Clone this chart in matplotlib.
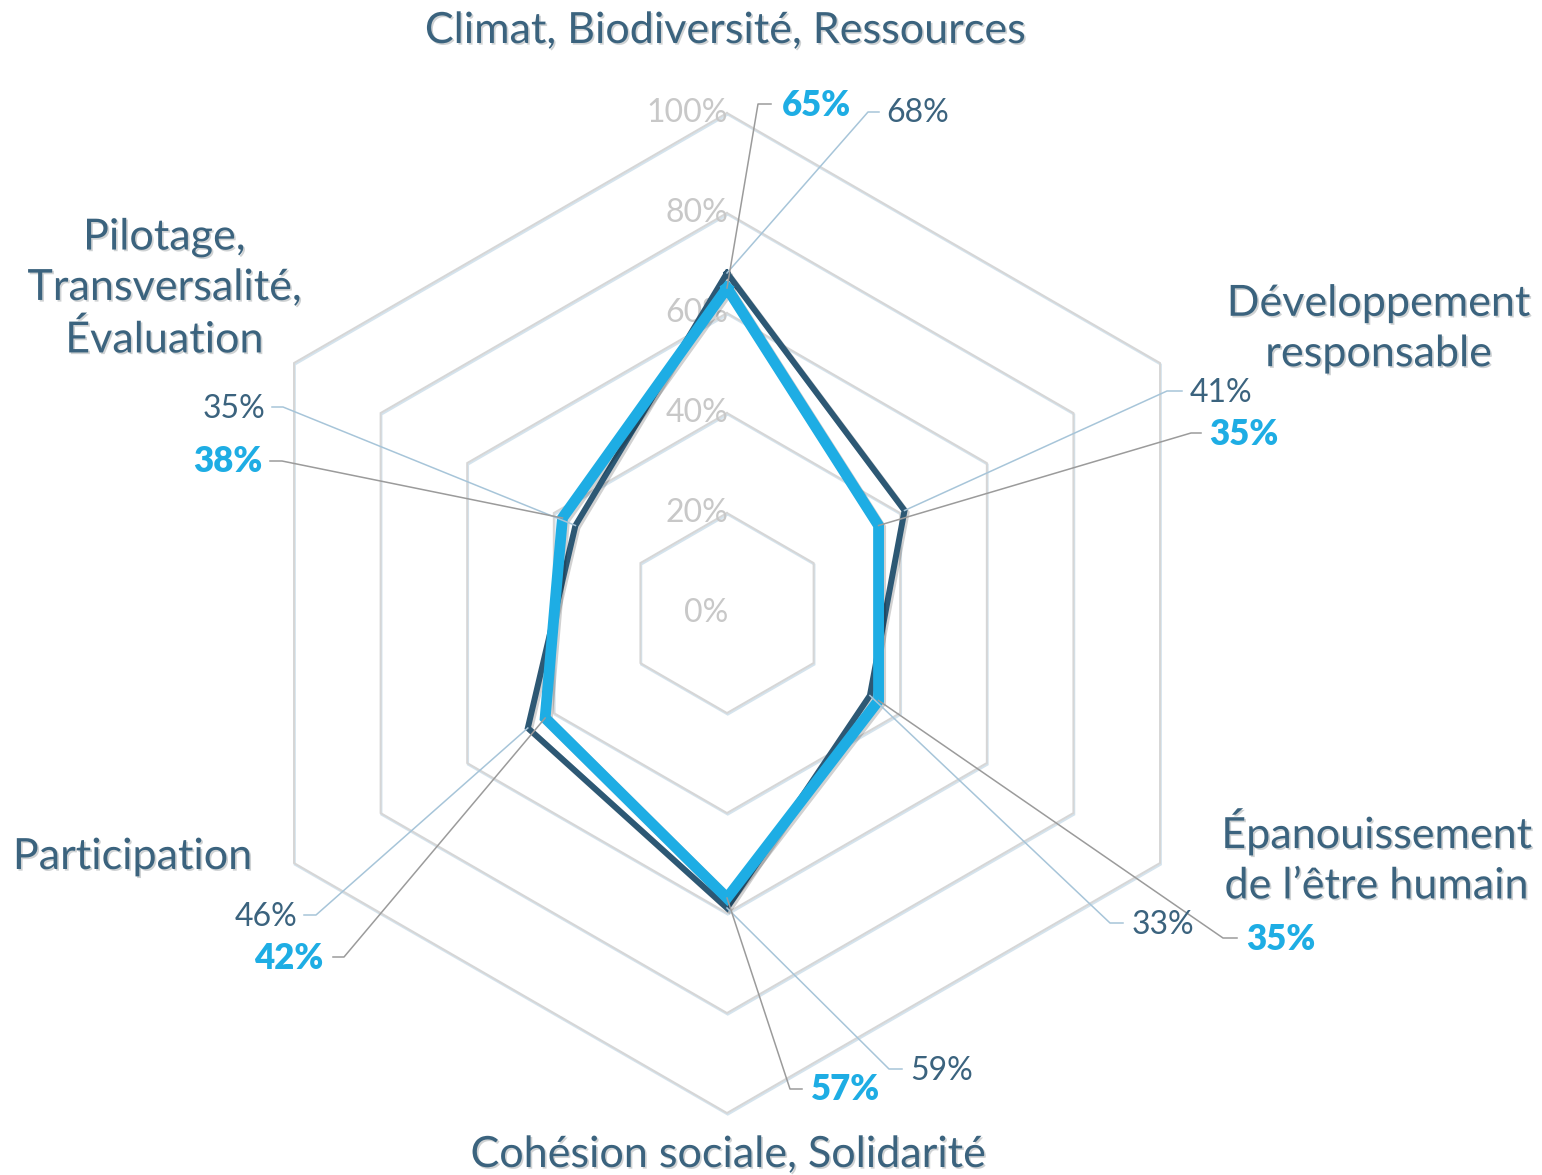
import numpy as np
import matplotlib.pyplot as plt
import matplotlib.patheffects as pe

# ---- data -------------------------------------------------------------
categories = [
    "Climat, Biodiversité, Ressources",
    "Développement\nresponsable",
    "Épanouissement\nde l’être humain",
    "Cohésion sociale, Solidarité",
    "Participation",
    "Pilotage,\nTransversalité,\nÉvaluation",
]
dark_values = [68, 41, 33, 59, 46, 35]
blue_values = [65, 35, 35, 57, 42, 38]
grid_levels = [20, 40, 60, 80, 100]
tick_levels = [0, 20, 40, 60, 80, 100]

# ---- style ------------------------------------------------------------
DARK = '#2d5874'
BLUE = '#1eade4'
TEXT = '#3b637e'
GRID = '#d6d6d6'
GRID2 = '#d4e3ed'
LEAD_DARK = '#a7c5d9'   # leader for the dark series labels
LEAD_BLUE = '#9b9b9b'   # leader for the blue series labels
FONT = 'Lato'

W, H = 1542, 1175
CX, CY, SCALE = 727, 613, 5.0   # centre in px, px per percent


def px(x, y):
    # pixel position -> data units
    return (x - CX) / SCALE, (CY - y) / SCALE


theta = np.arange(len(categories)) * 2 * np.pi / len(categories)


def to_xy(values):
    v = np.asarray(values, dtype=float)
    return v * np.sin(theta), v * np.cos(theta)


fig = plt.figure(figsize=(W / 100, H / 100), dpi=100)
ax = fig.add_axes([0, 0, 1, 1])
x0, y0 = px(0, H)
x1, y1 = px(W, 0)
ax.set_xlim(x0, x1)
ax.set_ylim(y0, y1)
ax.set_aspect('equal')
ax.axis('off')

# hexagonal grid (grey line with a pale blue twin just below it)
for lev in grid_levels:
    gx, gy = to_xy([lev] * len(categories))
    gx = np.append(gx, gx[0])
    gy = np.append(gy, gy[0])
    ax.plot(gx + 0.15, gy - 0.3, color=GRID2, lw=1.6, zorder=1,
            solid_joinstyle='miter')
    ax.plot(gx, gy, color=GRID, lw=1.4, zorder=1.1, solid_joinstyle='miter')

# tick labels along the top spoke
for lev in tick_levels:
    ax.text(px(728, 0)[0], lev, f"{lev}%", ha='right', va='center',
            fontsize=23, color='#c8c8c8', family=FONT, zorder=1.5)

# series
shadow = [pe.SimpleLineShadow(offset=(1.5, -1.5), alpha=0.18), pe.Normal()]
dx, dy = to_xy(dark_values)
bx, by = to_xy(blue_values)
ax.plot(np.append(dx, dx[0]), np.append(dy, dy[0]), color=DARK, lw=4.3,
        solid_joinstyle='miter', zorder=3, path_effects=shadow)
ax.plot(np.append(bx, bx[0]), np.append(by, by[0]), color=BLUE, lw=7.8,
        solid_joinstyle='miter', zorder=4, path_effects=shadow)

# category labels (pixel centres)
cat_pos = [(724, 31), (1378, 329), (1376, 857), (727, 1155), (132, 857),
           (164, 289)]
txt_shadow = [pe.SimplePatchShadow(offset=(1.2, -1.2), alpha=0.2),
              pe.Normal()]
for name, (cxp, cyp) in zip(categories, cat_pos):
    tx, ty = px(cxp, cyp)
    ax.text(tx, ty, name, ha='center', va='center', fontsize=31,
            color=TEXT, family=FONT, linespacing=1.4, zorder=5,
            path_effects=txt_shadow)

# value labels with elbow leaders: (elbow px, end px, text px, ha)
dark_lead = [
    ((868, 112), (879, 112), (886, 113), 'left'),
    ((1167, 391), (1182, 391), (1190, 393), 'left'),
    ((1110, 923), (1123, 923), (1132, 925), 'left'),
    ((889, 1069), (902, 1069), (910, 1071), 'left'),
    ((316, 915), (304, 915), (297, 917), 'right'),
    ((283, 407), (272, 407), (265, 409), 'right'),
]
blue_lead = [
    ((758, 104), (771, 104), (782, 105), 'left'),
    ((1191, 433), (1201, 433), (1209, 435), 'left'),
    ((1223, 938), (1237, 938), (1246, 940), 'left'),
    ((790, 1089), (802, 1089), (811, 1089), 'left'),
    ((344, 957), (333, 957), (323, 959), 'right'),
    ((282, 461), (270, 461), (262, 462), 'right'),
]


def draw_labels(xs, ys, values, leads, line_col, txt_col, weight, size):
    for x, y, v, (elb, end, tp, ha) in zip(xs, ys, values, leads):
        ex, ey = px(*elb)
        nx, ny = px(*end)
        ax.plot([x, ex, nx], [y, ey, ny], color=line_col, lw=1.1, zorder=4.5)
        tx, ty = px(*tp)
        ax.text(tx, ty, f"{v}%", ha=ha, va='center', fontsize=size,
                color=txt_col, family=FONT, fontweight=weight, zorder=5)


draw_labels(dx, dy, dark_values, dark_lead, LEAD_DARK, TEXT, 'normal', 23)
draw_labels(bx, by, blue_values, blue_lead, LEAD_BLUE, BLUE, 'heavy', 25)

fig.savefig('out.png', dpi=100, facecolor='white')
